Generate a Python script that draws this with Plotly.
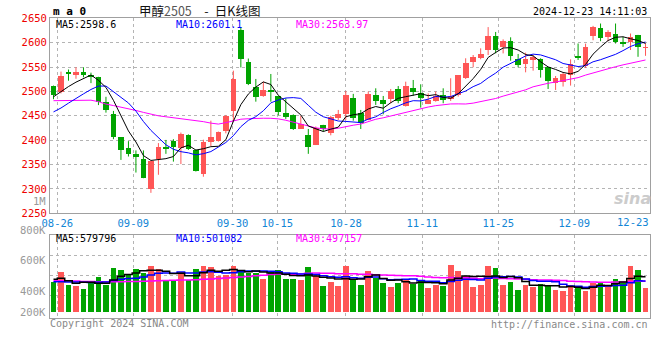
import plotly.graph_objects as go

W, H = 660, 360
PAGE_OFFSET = 0  # body margin is removed by the post script below

# ---------------- data ----------------
opens = [2511, 2497.5, 2540, 2535, 2538.5, 2532, 2529, 2477, 2454, 2405,
         2384, 2372, 2361.6, 2299.5, 2361, 2386, 2398.5, 2383, 2410, 2380,
         2329.5, 2396.5, 2398.5, 2417.6, 2458.6, 2625.6, 2560.5, 2508.5, 2490.5, 2503,
         2489.4, 2455.2, 2451.8, 2423, 2410.8, 2390.3, 2431.3, 2414, 2445, 2454,
         2486, 2455, 2441.5, 2491.4, 2481, 2484.6, 2505, 2470, 2506.4, 2496,
         2474.3, 2479, 2491.4, 2484, 2491.4, 2527, 2559.7, 2568, 2585, 2613.7,
         2590.4, 2603.4, 2565.8, 2556.3, 2563, 2566.5, 2548.8, 2516.7, 2518.7, 2532.4,
         2572.3, 2550.8, 2613.9, 2630.4, 2612, 2617.3, 2601.7, 2601.7, 2615.3, 2588.5]
highs = [2512, 2540.6, 2545, 2549.5, 2549.5, 2538.5, 2530, 2489, 2460, 2406,
         2398, 2379, 2379, 2356, 2394, 2400.5, 2402, 2415.6, 2412, 2381,
         2401, 2440, 2417.7, 2451.7, 2542.6, 2630.3, 2567.5, 2525.6, 2520, 2535.8,
         2490, 2486, 2453, 2449.7, 2423, 2428, 2431.5, 2450, 2462, 2501,
         2495, 2462, 2499.6, 2506.4, 2490.7, 2505, 2511, 2520, 2523.5, 2514.6,
         2496, 2499.6, 2506.4, 2527, 2533.7, 2568, 2574.7, 2588.4, 2632, 2622,
         2606.8, 2611, 2576.8, 2579.5, 2574.7, 2568, 2549, 2531.7, 2538.5, 2565.8,
         2598.3, 2598, 2634.5, 2639.3, 2625.6, 2639.3, 2612, 2618.8, 2616, 2598.3]
lows = [2484, 2496, 2522, 2526, 2529, 2517, 2472, 2456.5, 2402, 2359.5,
        2366.5, 2333.6, 2322, 2292, 2329, 2372, 2356, 2351, 2380, 2335.7,
        2325, 2388, 2397, 2414, 2438, 2549.2, 2513, 2479, 2489, 2479,
        2451, 2443.6, 2421, 2423, 2372, 2390, 2417.6, 2410, 2441.5, 2441.5,
        2440, 2423, 2441, 2472.3, 2453, 2475.7, 2475.7, 2469, 2491.4, 2466.8,
        2474, 2479, 2475.7, 2480.5, 2489.4, 2525.6, 2549.5, 2566, 2574.7, 2578,
        2578, 2563, 2549.5, 2539.2, 2542.6, 2528.3, 2505, 2503, 2510, 2512,
        2564.5, 2548, 2605, 2603, 2603, 2598.3, 2591.4, 2585, 2571, 2573]
closes = [2493, 2531.7, 2535, 2538.5, 2534.5, 2529, 2477, 2462, 2406, 2379,
          2370.5, 2364, 2322.7, 2356, 2386, 2382, 2385.5, 2412, 2382, 2337,
          2396, 2406.7, 2415.6, 2449.7, 2525.6, 2566.8, 2515.3, 2487.3, 2502.5, 2499,
          2456.6, 2447, 2423, 2433.4, 2385, 2424.5, 2423, 2447, 2454, 2491.4,
          2445, 2434.7, 2494.8, 2479, 2474.3, 2501, 2480.5, 2511, 2498.2, 2486,
          2481, 2490.7, 2482.5, 2489.4, 2532.4, 2557.7, 2569.3, 2576.8, 2612.3, 2583.6,
          2603.4, 2572.7, 2552.9, 2565.8, 2570, 2542.6, 2520, 2527, 2535, 2555.6,
          2568, 2591.5, 2632.5, 2608.6, 2621.3, 2601.7, 2596.2, 2612, 2591.4, 2590]

ma5 = [2489, 2500, 2510, 2519, 2526.5, 2533.7, 2522.8, 2508.2, 2481.7, 2450.6,
       2418.9, 2396.3, 2368.4, 2358.4, 2359.8, 2362.1, 2366.4, 2384.3, 2389.5, 2379.7,
       2382.5, 2386.7, 2387.5, 2401, 2438.7, 2472.9, 2494.6, 2508.9, 2519.5, 2514.2,
       2492.1, 2478.5, 2465.6, 2451.8, 2429, 2422.6, 2417.8, 2422.6, 2426.7, 2448,
       2452.1, 2454.4, 2464, 2469, 2465.6, 2476.8, 2485.9, 2489.2, 2493, 2495.3,
       2491.3, 2493.4, 2487.7, 2485.9, 2495.2, 2510.5, 2526.3, 2545.1, 2569.7, 2579.9,
       2589.1, 2589.8, 2585, 2575.7, 2573, 2560.8, 2550.3, 2545.1, 2538.9, 2536,
       2541.1, 2555.4, 2576.5, 2591.2, 2604.4, 2611.1, 2612.1, 2608, 2604.5, 2598.3]
ma10 = [2458, 2466, 2476, 2486, 2495, 2504, 2511, 2511, 2500, 2488.6,
        2476.3, 2459.6, 2438.3, 2420.1, 2405.2, 2390.5, 2381.4, 2376.4, 2374, 2369.8,
        2372.3, 2376.6, 2385.9, 2395.3, 2409.2, 2427.7, 2440.7, 2448.2, 2460.3, 2476.5,
        2482.5, 2486.5, 2487.3, 2485.7, 2471.6, 2457.4, 2448.1, 2444.1, 2439.3, 2438.5,
        2437.3, 2436.1, 2443.3, 2447.8, 2456.8, 2464.4, 2470.2, 2476.6, 2481, 2480.5,
        2484.1, 2489.7, 2488.4, 2489.5, 2495.3, 2500.9, 2509.8, 2516.4, 2527.8, 2537.6,
        2549.8, 2558, 2565.1, 2572.7, 2576.5, 2574.9, 2570, 2565, 2557.3, 2554.5,
        2551, 2552.8, 2560.8, 2565.1, 2570.2, 2576.1, 2583.7, 2592.2, 2597.9, 2601.3]
ma30 = [2481, 2481, 2481, 2481.5, 2482, 2482, 2479, 2474, 2471, 2468,
        2465, 2461, 2457, 2453, 2450, 2448, 2446, 2445, 2443, 2441,
        2438, 2435, 2433, 2436, 2440, 2443, 2444, 2445, 2445, 2444.9,
        2443.7, 2440.9, 2437.2, 2433.7, 2428.7, 2425.2, 2423.4, 2422.9, 2424.5, 2428.2,
        2430.7, 2433.1, 2438.8, 2442.9, 2445.9, 2449.8, 2453, 2456.3, 2460.2, 2465.1,
        2468, 2470.8, 2473, 2474.3, 2474.5, 2474.2, 2476, 2479, 2482.7, 2485.5,
        2490.4, 2494.6, 2498.9, 2503.3, 2509.5, 2513.4, 2516.7, 2519.3, 2522, 2524.2,
        2528.3, 2533.5, 2538.1, 2542.4, 2547.3, 2550.7, 2554.5, 2557.9, 2561, 2564.5]

volumes = [495, 664, 456, 439, 384, 478, 580, 456, 732, 693,
           625, 710, 647, 761, 710, 524, 524, 676, 536, 710,
           777, 749, 592, 625, 761, 693, 647, 647, 541, 681,
           693, 541, 541, 524, 749, 592, 439, 495, 428, 777,
           553, 456, 681, 570, 478, 411, 478, 536, 468, 536,
           394, 456, 439, 794, 681, 597, 411, 451, 777, 732,
           451, 495, 355, 456, 411, 468, 451, 355, 343, 456,
           394, 343, 478, 495, 439, 541, 495, 777, 693, 394]
vol_ma5 = [536, 553, 512, 468, 487.6, 484.2, 467.4, 467.4, 526, 587.8,
           617.2, 643.2, 681.4, 687.2, 690.6, 670.4, 633.2, 639, 594, 594,
           644.6, 689.6, 672.8, 690.6, 700.8, 684, 663.6, 674.6, 657.8, 641.8,
           641.8, 620.6, 599.4, 596, 609.6, 589.4, 569, 559.8, 540.6, 546.2,
           538.4, 541.8, 579, 607.4, 547.6, 519.2, 523.6, 494.6, 474.2, 485.8,
           482.4, 478, 458.6, 523.8, 552.8, 593.4, 584.4, 586.8, 583.4, 593.6,
           564.4, 581.2, 562, 497.8, 433.6, 437, 428.2, 428.2, 405.6, 414.6,
           399.8, 378.2, 402.8, 433.2, 429.8, 459.2, 489.6, 549.4, 589, 580]
vol_ma10 = [495, 495, 490, 488, 485, 483, 486, 492, 515, 537.7,
            550.7, 555.3, 574.4, 606.6, 639.2, 643.8, 638.2, 660.2, 640.6, 642.3,
            657.5, 661.4, 655.9, 642.3, 647.4, 664.3, 676.6, 673.7, 674.2, 671.3,
            662.9, 642.1, 637, 626.9, 625.7, 615.6, 594.8, 579.6, 568.3, 577.9,
            563.9, 555.4, 569.4, 574, 546.9, 528.8, 532.7, 536.8, 540.8, 516.7,
            500.8, 500.8, 476.6, 499, 519.3, 537.9, 531.2, 522.7, 553.6, 573.2,
            578.9, 582.8, 574.4, 540.6, 513.6, 500.7, 504.7, 495.1, 451.7, 424.1,
            418.4, 403.2, 415.5, 419.4, 422.2, 429.5, 433.9, 476.1, 511.1, 504.9]
vol_ma30 = [512, 512, 510, 505, 500, 498, 496, 495, 495, 496,
            498, 500, 503, 506, 510, 514, 518, 522, 526, 530,
            535, 542, 550, 558, 566, 575, 585, 595, 605, 617.1,
            623.7, 619.6, 622.4, 625.3, 637.4, 641.2, 636.5, 637.8, 627.7, 630.5,
            628.1, 619.6, 620.8, 614.4, 606.7, 602.9, 601.4, 596.7, 594.4, 588.6,
            575.9, 566.1, 561, 566.6, 564, 560.8, 552.9, 546.4, 554.2, 555.9,
            547.9, 546.3, 540.1, 537.9, 526.6, 522.5, 522.9, 518.2, 515.4, 504.7,
            499.4, 495.6, 488.8, 486.3, 485, 489.4, 489.9, 498, 505.5, 500.7]
VOL_UNIT = 1000  # volumes above are in thousands

date_labels = ["08-26", "09-09", "09-30", "10-15", "10-28", "11-11", "11-25", "12-09"]
date_label_pos = [0.51, 10.65, 23.89, 29.86, 39.03, 49.21, 59.35, 69.5]
last_date_label = "12-23"
price_ticks = [2250, 2300, 2350, 2400, 2450, 2500, 2550, 2600, 2650]
vol_tick_labels = ["800K", "600K", "400K", "200K"]

price_legend = [("MA5:2598.6", "#000000"), ("MA10:2601.1", "#0000ff"), ("MA30:2563.97", "#ff00ff")]
vol_legend = [("MA5:579796", "#000000"), ("MA10:501082", "#0000ff"), ("MA30:497157", "#ff00ff")]
title_name = "甲醇"
title_code = "2505"
title_rest = "\u2003-\u2002日K线图"
timestamp = "2024-12-23 14:11:03"

# ---------------- styling ----------------
UP, DOWN = "#ff5656", "#00a400"
GRID = "#b4b4b4"
BORDER = "#a0a0a0"
MONO = "DejaVu Sans Mono"

def px_x(x):
    return (x - PAGE_OFFSET) / W

def px_y(y):
    return 1 - (y - PAGE_OFFSET) / H

n = len(closes)
idx = list(range(n))
colors = [UP if c >= o else DOWN for o, c in zip(opens, closes)]
body_base = [min(o, c) for o, c in zip(opens, closes)]
body_h = [max(abs(c - o), 1.3) for o, c in zip(opens, closes)]

fig = go.Figure()

# wicks
for col in (UP, DOWN):
    wx, wy = [], []
    for i in idx:
        if colors[i] == col:
            wx += [i, i, None]
            wy += [lows[i], highs[i], None]
    fig.add_trace(go.Scatter(x=wx, y=wy, mode="lines", line=dict(color=col, width=1),
                             xaxis="x", yaxis="y", hoverinfo="skip"))

# bodies
fig.add_trace(go.Bar(x=idx, y=body_h, base=body_base, width=0.76,
                     marker=dict(color=colors, line=dict(width=0)),
                     xaxis="x", yaxis="y"))

# price MAs
for arr, col in ((ma30, "#ff00ff"), (ma10, "#0000ff"), (ma5, "#000000")):
    fig.add_trace(go.Scatter(x=idx, y=arr, mode="lines", line=dict(color=col, width=1),
                             xaxis="x", yaxis="y"))

# volume bars
fig.add_trace(go.Bar(x=idx, y=[v * VOL_UNIT for v in volumes], width=0.76,
                     marker=dict(color=colors, line=dict(width=0)),
                     xaxis="x2", yaxis="y2"))
for arr, col in ((vol_ma30, "#ff00ff"), (vol_ma10, "#0000ff"), (vol_ma5, "#000000")):
    fig.add_trace(go.Scatter(x=idx, y=[v * VOL_UNIT for v in arr], mode="lines",
                             line=dict(color=col, width=1.5, shape="hvh"),
                             xaxis="x2", yaxis="y2"))

# geometry (screen pixels)
X0, X1 = 50, 650
P_TOP, P_BOT = 18.3, 213.3
V_TOP, V_BOT = 234.5, 318
V_ZERO = 311
V_PER_PX = 16900
SLOT = 7.494
FIRST_X = 53.5

xr = [(X0 - FIRST_X) / SLOT, (X1 - FIRST_X) / SLOT]
vr = [-(V_BOT - V_ZERO) * V_PER_PX, (V_ZERO - V_TOP) * V_PER_PX]
vol_grid = [(V_ZERO - y) * V_PER_PX for y in (255, 275, 295)]

common_x = dict(range=xr, tickmode="array", tickvals=date_label_pos, showgrid=True,
                gridcolor=GRID, griddash="dot", gridwidth=1, zeroline=False,
                showline=True, linecolor=BORDER, linewidth=1, mirror=True, ticks="",
                domain=[px_x(X0), px_x(X1)], fixedrange=True, automargin=False)

fig.update_layout(
    width=W, height=H, margin=dict(l=0, r=0, t=0, b=0, pad=0, autoexpand=False),
    paper_bgcolor="white", plot_bgcolor="white",
    showlegend=False, barmode="overlay", bargap=0,
    font=dict(family=MONO, size=10, color="#000"),
    xaxis=dict(**common_x, anchor="y", ticktext=date_labels, showticklabels=True,
               tickfont=dict(family=MONO, size=10.5, color="#1286d6")),
    yaxis=dict(range=[2250, 2650], domain=[px_y(P_BOT), px_y(P_TOP)], tickmode="array",
               tickvals=price_ticks, showgrid=True, gridcolor=GRID, griddash="dot",
               zeroline=False, showline=True, linecolor=BORDER, mirror=True, ticks="",
               tickfont=dict(family=MONO, size=10.5, color="#ee0000"), anchor="x",
               fixedrange=True, automargin=False),
    xaxis2=dict(**common_x, anchor="y2", showticklabels=False, matches="x"),
    yaxis2=dict(range=vr, domain=[px_y(V_BOT), px_y(V_TOP)], tickmode="array",
                tickvals=vol_grid, showticklabels=False, showgrid=True, gridcolor=GRID,
                griddash="dot", zeroline=False, showline=True, linecolor=BORDER,
                mirror=True, ticks="", anchor="x2", fixedrange=True, automargin=False),
)

ann = []

def text(x, y, s, color="#000", size=10, anchor="left", family=MONO, **kw):
    ann.append(dict(x=px_x(x), y=px_y(y), xref="paper", yref="paper", text=s,
                    showarrow=False, xanchor=anchor, yanchor="middle", borderpad=0,
                    font=dict(family=family, size=size, color=color), **kw))

# header
text(52, 11, "<b>m a 0</b>", size=11)
text(199, 10.5, f"{title_name}<span style='color:#555555'>{title_code}</span>{title_rest}",
     size=12.5, anchor="center", family="Noto Sans CJK SC", color="#111")
text(648, 12, timestamp, size=10, anchor="right")

# MA legends
for (s, col), x in zip(price_legend, (55, 175, 295)):
    text(x, 24.5, s, color=col, size=10)
for (s, col), x in zip(vol_legend, (55, 175, 295)):
    text(x, 238.7, s, color=col, size=10)

# last date label and odd axis labels
text(649.5, 221.7, last_date_label, color="#1286d6", size=10.5, anchor="right")
text(47, 201, "1M", color="#999999", size=10.5, anchor="right")
for s, y in zip(vol_tick_labels, (230.5, 259.5, 291, 311.5)):
    text(47, y, s, color="#999999", size=10.5, anchor="right")

# watermark and footer
text(652, 198, "<b><i>sina</i></b>", color="#cccccc", size=16, anchor="right",
     family="DejaVu Sans")
text(49, 323, "Copyright 2024 SINA.COM", color="#888888", size=10)
text(649, 324, "http://finance.sina.com.cn", color="#888888", size=10, anchor="right")

fig.update_layout(annotations=ann)
fig.write_html("out.html", config={"displayModeBar": False},
               post_script="document.body.style.margin='0';document.body.style.padding='0';")
